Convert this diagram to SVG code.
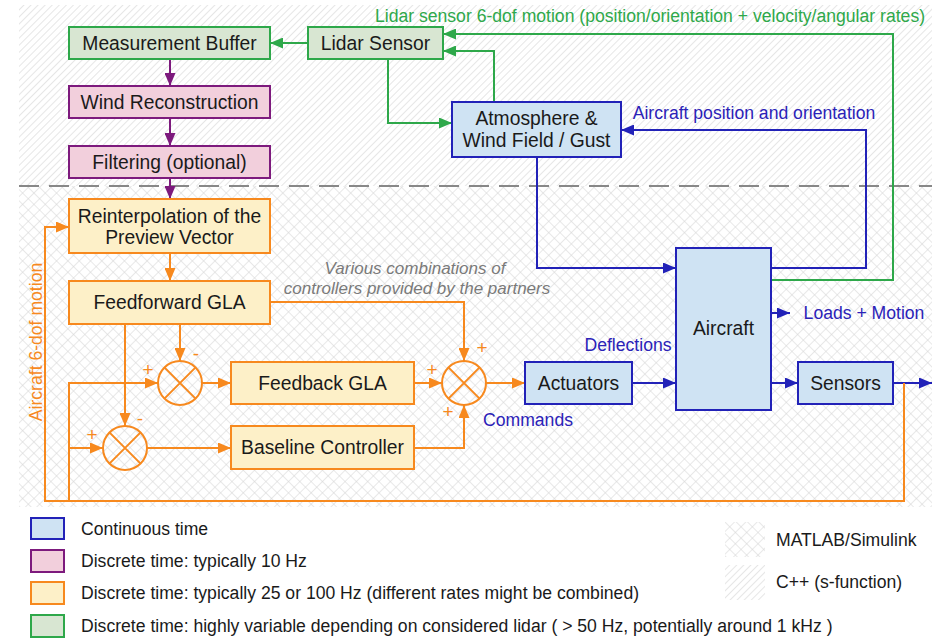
<svg xmlns="http://www.w3.org/2000/svg" width="946" height="640" viewBox="0 0 946 640">
<style>
text{font-family:"Liberation Sans",Arial,sans-serif;fill:#1a1a1a}
.nt{font-size:19.3px;text-anchor:middle}
.lb{font-size:17.6px}
.mid{text-anchor:middle}
.blue{fill:#2b22b8}
.grn{fill:#2ea84a}
.org{fill:#f7891e}
.gray{fill:#7a7a7a;font-style:italic;font-size:17px}
.sign{font-size:19px;text-anchor:middle;fill:#f7891e}
.bx{stroke-width:2}
.bl{fill:#cfe3f3;stroke:#2222b8}
.pu{fill:#f2cfdc;stroke:#7d1a7d}
.or{fill:#fdf0c8;stroke:#f7891e}
.gr{fill:#d8e6d2;stroke:#2ea84a}
.c{fill:none;stroke-width:2}
.cg{stroke:#2ea84a}
.cb{stroke:#2222b8}
.co{stroke:#f7891e}
.cp{stroke:#7d1a7d}
.sum{fill:none;stroke:#f7891e;stroke-width:2}
</style>
<defs>
<pattern id="diag" width="5" height="5" patternUnits="userSpaceOnUse" patternTransform="rotate(45)">
<line x1="0" y1="0" x2="0" y2="5" stroke="#cdcdcd" stroke-width="1"/>
</pattern>
<pattern id="cross" width="8" height="8" patternUnits="userSpaceOnUse" patternTransform="rotate(45)">
<path d="M0,0 V8 M0,0 H8" stroke="#d2d2d2" stroke-width="1" fill="none"/>
</pattern>
<marker id="ag" markerUnits="userSpaceOnUse" markerWidth="13" markerHeight="11" refX="13" refY="5.5" orient="auto"><path d="M0,0 L13,5.5 L0,11 z" fill="#2ea84a"/></marker>
<marker id="ab" markerUnits="userSpaceOnUse" markerWidth="13" markerHeight="11" refX="13" refY="5.5" orient="auto"><path d="M0,0 L13,5.5 L0,11 z" fill="#2222b8"/></marker>
<marker id="ao" markerUnits="userSpaceOnUse" markerWidth="13" markerHeight="11" refX="13" refY="5.5" orient="auto"><path d="M0,0 L13,5.5 L0,11 z" fill="#f7891e"/></marker>
<marker id="ap" markerUnits="userSpaceOnUse" markerWidth="13" markerHeight="11" refX="13" refY="5.5" orient="auto"><path d="M0,0 L13,5.5 L0,11 z" fill="#7d1a7d"/></marker>
</defs>
<rect width="946" height="640" fill="#ffffff"/>
<g id="background">
<rect x="19" y="5" width="913" height="181" fill="url(#diag)"/>
<rect x="19" y="186" width="913" height="321" fill="url(#cross)"/>
<path d="M19,186 H932" stroke="#888888" stroke-width="2" stroke-dasharray="20 10" fill="none"/>
</g>
<g id="connectors">
<path class="c cg" d="M308,43 H270" marker-end="url(#ag)"/>
<path class="c cg" d="M388,59 V123 H452" marker-end="url(#ag)"/>
<path class="c cg" d="M494,102 V51 H443" marker-end="url(#ag)"/>
<path class="c cg" d="M771,280 H893 V34 H443" marker-end="url(#ag)"/>
<path class="c cb" d="M771,268 H866 V130 H621" marker-end="url(#ab)"/>
<path class="c cb" d="M537,157 V268 H676" marker-end="url(#ab)"/>
<path class="c cb" d="M771,313 H790" marker-end="url(#ab)"/>
<path class="c cb" d="M632,383 H676" marker-end="url(#ab)"/>
<path class="c cb" d="M771,383 H798" marker-end="url(#ab)"/>
<path class="c cb" d="M893,383 H932" marker-end="url(#ab)"/>
<path class="c cp" d="M170,59 V86" marker-end="url(#ap)"/>
<path class="c cp" d="M170,118 V146" marker-end="url(#ap)"/>
<path class="c cp" d="M170,178 V199" marker-end="url(#ap)"/>
<path class="c co" d="M170,253 V281" marker-end="url(#ao)"/>
<path class="c co" d="M180,324 V361" marker-end="url(#ao)"/>
<path class="c co" d="M125,324 V426" marker-end="url(#ao)"/>
<path class="c co" d="M270,302 H464 V361" marker-end="url(#ao)"/>
<path class="c co" d="M202,383 H231" marker-end="url(#ao)"/>
<path class="c co" d="M414,383 H442" marker-end="url(#ao)"/>
<path class="c co" d="M147,448 H231" marker-end="url(#ao)"/>
<path class="c co" d="M414,448 H464 V405" marker-end="url(#ao)"/>
<path class="c co" d="M486,383 H525" marker-end="url(#ao)"/>
<path class="c co" d="M904,383 V501 H45 V227 H69" marker-end="url(#ao)"/>
<path class="c co" d="M69,501 V383 H158" marker-end="url(#ao)"/>
<path class="c co" d="M69,448 H103" marker-end="url(#ao)"/>
<text class="lb grn mid" x="650" y="22">Lidar sensor 6-dof motion (position/orientation + velocity/angular rates)</text>
<text class="lb blue mid" x="754" y="119">Aircraft position and orientation</text>
<text class="lb blue mid" x="864" y="319">Loads + Motion</text>
<text class="lb blue mid" x="628" y="351">Deflections</text>
<text class="lb blue mid" x="528" y="426">Commands</text>
<text class="gray mid" x="415" y="274">Various combinations of</text>
<text class="gray mid" x="417" y="294">controllers provided by the partners</text>
<text class="lb org mid" transform="translate(42,342) rotate(-90)">Aircraft 6-dof motion</text>
<text class="sign" x="148" y="376">+</text>
<text class="sign" x="196" y="360">-</text>
<text class="sign" x="92" y="441">+</text>
<text class="sign" x="140" y="425">-</text>
<text class="sign" x="482" y="354">+</text>
<text class="sign" x="432" y="376">+</text>
<text class="sign" x="448" y="418">+</text>
</g>
<g id="measurement-buffer"><rect class="bx gr" x="69" y="27" width="201" height="32"/><text class="nt" x="169.5" y="50">Measurement Buffer</text></g>
<g id="lidar-sensor"><rect class="bx gr" x="308" y="27" width="135" height="32"/><text class="nt" x="375.5" y="50">Lidar Sensor</text></g>
<g id="wind-reconstruction"><rect class="bx pu" x="69" y="86" width="201" height="32"/><text class="nt" x="169.5" y="109">Wind Reconstruction</text></g>
<g id="filtering"><rect class="bx pu" x="69" y="146" width="201" height="32"/><text class="nt" x="169.5" y="169">Filtering (optional)</text></g>
<g id="atmosphere"><rect class="bx bl" x="452" y="102" width="169" height="55"/><text class="nt" x="536.5" y="125">Atmosphere &amp;</text><text class="nt" x="536.5" y="147">Wind Field / Gust</text></g>
<g id="reinterpolation"><rect class="bx or" x="69" y="199" width="201" height="54"/><text class="nt" x="169.5" y="223">Reinterpolation of the</text><text class="nt" x="169.5" y="244">Preview Vector</text></g>
<g id="feedforward-gla"><rect class="bx or" x="69" y="281" width="201" height="43"/><text class="nt" x="169.5" y="309">Feedforward GLA</text></g>
<g id="feedback-gla"><rect class="bx or" x="231" y="362" width="183" height="42"/><text class="nt" x="322.5" y="390">Feedback GLA</text></g>
<g id="baseline-controller"><rect class="bx or" x="231" y="426" width="183" height="43"/><text class="nt" x="322.5" y="454">Baseline Controller</text></g>
<g id="actuators"><rect class="bx bl" x="525" y="362" width="107" height="42"/><text class="nt" x="578.5" y="390">Actuators</text></g>
<g id="aircraft"><rect class="bx bl" x="676" y="248" width="95" height="162"/><text class="nt" x="723.5" y="335">Aircraft</text></g>
<g id="sensors"><rect class="bx bl" x="798" y="362" width="95" height="42"/><text class="nt" x="845.5" y="390">Sensors</text></g>
<g id="sum1"><circle class="sum" cx="180" cy="383" r="22"/><path class="sum" d="M164.4,367.4 L195.6,398.6 M195.6,367.4 L164.4,398.6"/></g>
<g id="sum2"><circle class="sum" cx="125" cy="448" r="22"/><path class="sum" d="M109.4,432.4 L140.6,463.6 M140.6,432.4 L109.4,463.6"/></g>
<g id="sum3"><circle class="sum" cx="464" cy="383" r="22"/><path class="sum" d="M448.4,367.4 L479.6,398.6 M479.6,367.4 L448.4,398.6"/></g>
<g id="legend">
<rect class="bx bl" x="31" y="518" width="33" height="21"/>
<rect class="bx pu" x="31" y="550" width="33" height="22"/>
<rect class="bx or" x="31" y="582" width="33" height="22"/>
<rect class="bx gr" x="31" y="615" width="33" height="22"/>
<text class="lb" x="81" y="535">Continuous time</text>
<text class="lb" x="81" y="567">Discrete time: typically 10 Hz</text>
<text class="lb" x="81" y="599">Discrete time: typically 25 or 100 Hz (different rates might be combined)</text>
<text class="lb" x="81" y="632">Discrete time: highly variable depending on considered lidar ( &gt; 50 Hz, potentially around 1 kHz )</text>
<rect x="725" y="522" width="40" height="35" fill="url(#cross)"/>
<rect x="725" y="565" width="40" height="35" fill="url(#diag)"/>
<text class="lb" x="776" y="546">MATLAB/Simulink</text>
<text class="lb" x="776" y="588">C++ (s-function)</text>
</g>
</svg>
